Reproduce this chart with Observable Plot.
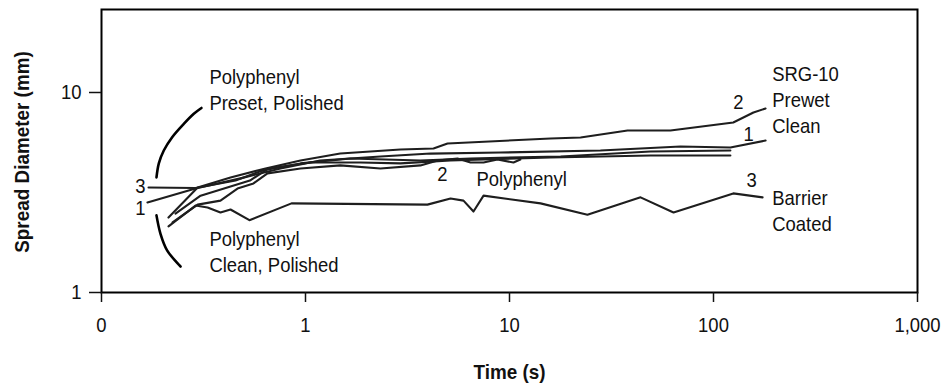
<!DOCTYPE html>
<html>
<head>
<meta charset="utf-8">
<script src="https://cdn.jsdelivr.net/npm/d3@7"></script>
<script src="https://cdn.jsdelivr.net/npm/@observablehq/plot@0.6"></script>
<style>
  html, body { margin: 0; padding: 0; background: #fff; }
  #chart svg { display: block; }
</style>
</head>
<body>
<div id="chart"></div>
<script>
// ---- Data (time in s, spread diameter in mm) ----
const lineA = { t: [0.213, 0.296, 0.429, 0.637, 0.945, 1.48, 2.92, 4.24, 4.97, 15.9, 22.3, 37.9, 61.5, 125, 157, 180],
                d: [2.37, 3.35, 3.76, 4.17, 4.57, 4.95, 5.19, 5.25, 5.56, 5.89, 5.96, 6.46, 6.46, 7.08, 7.94, 8.32] };
const lineB = { t: [0.168, 0.289, 0.48, 0.754, 1.18, 2.33, 4.10, 9.03, 27.9, 68.9, 121, 180],
                d: [2.82, 3.31, 3.72, 4.17, 4.57, 4.79, 4.95, 5.01, 5.13, 5.37, 5.31, 5.75] };
const lineC = { t: [0.170, 0.289, 0.454, 0.615, 0.945, 1.66, 3.66, 6.44, 17.8, 49.1, 121],
                d: [3.35, 3.33, 3.63, 4.07, 4.42, 4.68, 4.57, 4.68, 4.79, 5.07, 5.13] };
const lineD = { t: [0.223, 0.296, 0.383, 0.464, 0.556, 0.651, 0.945, 1.48, 2.33, 3.66, 4.44, 5.56, 6.44, 7.46, 8.73, 10.46, 11.3],
                d: [2.24, 2.75, 2.88, 3.31, 3.51, 3.94, 4.17, 4.32, 4.17, 4.32, 4.57, 4.68, 4.47, 4.47, 4.62, 4.47, 4.62] };
const lineE = { t: [0.2305, 0.306, 0.534, 0.659, 1.058, 1.86, 2.92, 5.14, 15.9, 49.1, 121],
                d: [2.48, 3.05, 3.63, 4.17, 4.47, 4.47, 4.42, 4.57, 4.73, 4.84, 4.84] };
const lineF = { t: [0.213, 0.289, 0.331, 0.383, 0.429, 0.531, 0.854, 3.96, 5.14, 5.95, 6.66, 7.46, 14.2, 24.1, 43.9, 63.7, 125, 174],
                d: [2.14, 2.72, 2.66, 2.51, 2.60, 2.30, 2.79, 2.75, 2.95, 2.88, 2.54, 3.05, 2.79, 2.45, 2.99, 2.51, 3.13, 2.99] };

const seriesNames = ["A", "B", "C", "D", "E", "F"];
const seriesList = [lineA, lineB, lineC, lineD, lineE, lineF];

// bracket arcs (data coordinates)
const bracketUpper = { t: [0.186, 0.191, 0.202, 0.222, 0.2531, 0.2835, 0.309], d: [3.76, 4.42, 5.13, 5.98, 6.97, 7.83, 8.37] };
const bracketLower = { t: [0.186, 0.1946, 0.210, 0.244], d: [2.43, 1.966, 1.62, 1.349] };

// annotations
const noteText = ["3", "1", "Polyphenyl\nPreset, Polished", "Polyphenyl\nClean, Polished", "2", "Polyphenyl", "2", "SRG-10\nPrewet\nClean", "1", "3", "Barrier\nCoated"];
const noteT    = [0.155, 0.155, 0.338, 0.338, 4.69, 6.89, 132.6, 194, 148.5, 153.6, 194];
const noteD    = [3.47, 2.69, 10.47, 1.622, 3.98, 3.76, 9.12, 9.33, 6.31, 3.72, 2.60];
const noteAnchor = ["middle", "middle", "start", "start", "middle", "start", "middle", "start", "middle", "middle", "start"];

// ticks
const xTickValues = [0.1, 1, 10, 100, 1000];
const xTickLabels = ["0", "1", "10", "100", "1,000"];
const yTickValues = [1, 10];
const yTickLabels = ["1", "10"];

// ---- Build tables ----
const rows = [];
seriesList.forEach((s, k) => s.t.forEach((t, i) => rows.push({ series: seriesNames[k], t, d: s.d[i] })));
const toRows = s => s.t.map((t, i) => ({ t, d: s.d[i] }));
const notes = noteText.map((text, i) => ({ text, t: noteT[i], d: noteD[i], anchor: noteAnchor[i] }));

const FONT = "'Liberation Sans', Arial, sans-serif";
const FS = 20.5;

const chart = Plot.plot({
  width: 945,
  height: 389,
  marginLeft: 101,
  marginRight: 28,
  marginTop: 9,
  marginBottom: 97,
  style: { fontFamily: FONT, fontSize: FS + "px", color: "#111", background: "#fff" },
  x: { type: "log", domain: [0.1, 1000] },
  y: { type: "log", domain: [1, 26] },
  marks: [
    Plot.line(rows, { x: "t", y: "d", z: "series", stroke: "#1e1e1e", strokeWidth: 2.1, strokeLinejoin: "round" }),
    Plot.line(toRows(bracketUpper), { x: "t", y: "d", curve: "catmull-rom", stroke: "#000", strokeWidth: 2.6 }),
    Plot.line(toRows(bracketLower), { x: "t", y: "d", curve: "catmull-rom", stroke: "#000", strokeWidth: 2.6 }),
    ...["start", "middle"].map(a => Plot.text(notes.filter(n => n.anchor === a), {
      x: "t", y: "d", text: "text", textAnchor: a, lineAnchor: "middle", lineHeight: 1.26,
      fontSize: FS, fill: "#111"
    })),
    Plot.frame({ stroke: "#000", strokeWidth: 2 }),
    Plot.axisX({ ticks: xTickValues, tickFormat: v => xTickLabels[xTickValues.indexOf(v)], tickSize: 10, tickPadding: 15, fontSize: FS, label: null, strokeWidth: 1.5 }),
    Plot.axisY({ ticks: yTickValues, tickFormat: v => yTickLabels[yTickValues.indexOf(v)], tickSize: 12, tickPadding: 8, fontSize: FS, label: null, strokeWidth: 1.5 }),
    Plot.text(["Time (s)"], { frameAnchor: "bottom", dy: 80, lineAnchor: "middle", textAnchor: "middle", fontSize: 21, fontWeight: "bold", fill: "#111" }),
    Plot.text(["Spread Diameter (mm)"], { frameAnchor: "left", dx: -79, dy: 1, rotate: -90, textAnchor: "middle", lineAnchor: "middle", fontSize: 21, fontWeight: "bold", fill: "#111" })
  ]
});

// condense the glyphs horizontally (the reference uses a condensed face)
chart.querySelectorAll("text").forEach(el => {
  const tr = el.getAttribute("transform") || "";
  el.setAttribute("transform", (tr + " scale(0.9,1)").trim());
});

document.getElementById("chart").appendChild(chart);
</script>
</body>
</html>
